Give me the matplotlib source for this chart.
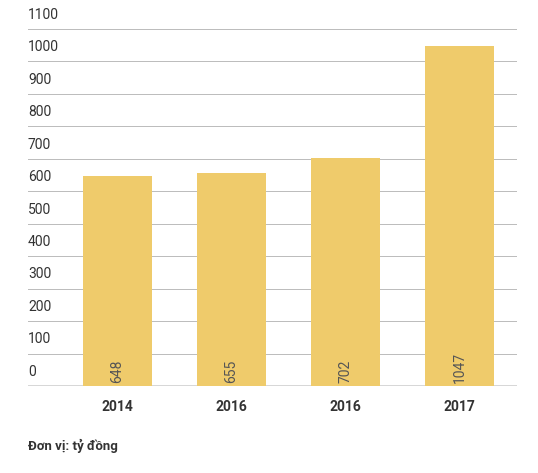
import matplotlib.pyplot as plt
import numpy as np

plt.rcParams["font.family"] = ["Roboto", "DejaVu Sans"]

years = ["2014", "2016", "2016", "2017"]
values = [648, 655, 702, 1047]
y_ticks = list(range(0, 1101, 100))

BAR_COLOR = "#EFCB6B"
TEXT_COLOR = "#333333"

fig = plt.figure(figsize=(5.38, 4.73), dpi=100)
ax = fig.add_axes([0.052, 0.184, 0.909, 0.755])

x = np.arange(len(years))
ax.bar(x, values, width=0.605, color=BAR_COLOR, zorder=2)
ax.set_xlim(-0.785, 3.504)
ax.set_ylim(0, 1100)

for t in y_ticks:
    ax.axhline(t, color="#333333" if t == 0 else "#BBBBBB",
               lw=1.0 if t == 0 else 0.7, zorder=1)
    ax.text(0, t + 22, str(t), transform=ax.get_yaxis_transform(),
            ha="left", va="bottom", fontsize=10, color=TEXT_COLOR)

for xi, v in zip(x, values):
    ax.text(xi, 8, str(v), rotation=90, ha="center", va="bottom",
            fontsize=10, color="#555555", zorder=3)

ax.set_xticks(x)
ax.set_xticklabels(years, fontsize=10, fontweight="bold", color=TEXT_COLOR)
ax.tick_params(axis="x", length=0, pad=10)
ax.set_yticks([])
for s in ax.spines.values():
    s.set_visible(False)

fig.text(0.052, 0.048, "Đơn vị: tỷ đồng", fontsize=9.5, fontweight="bold",
         color=TEXT_COLOR, ha="left")

fig.savefig("out.png", dpi=100)
